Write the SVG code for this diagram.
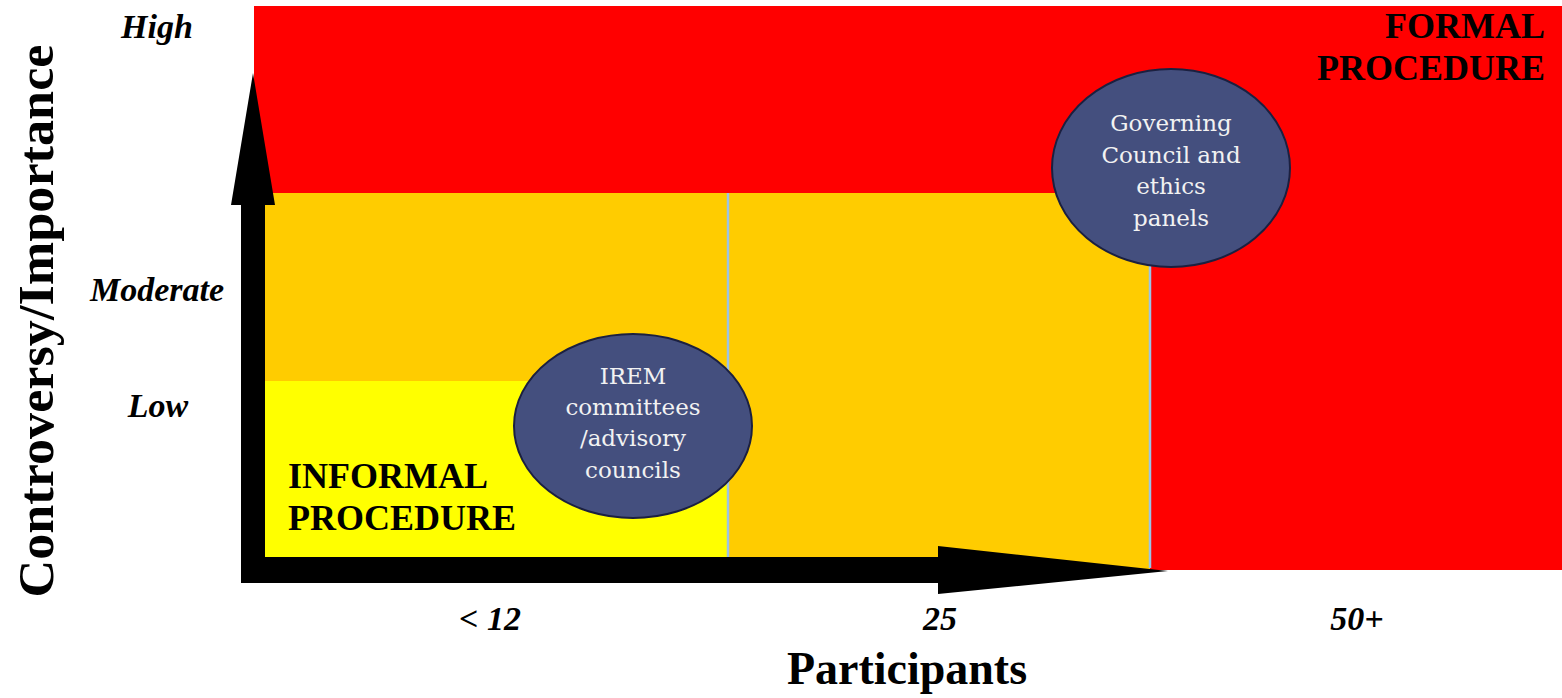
<svg xmlns="http://www.w3.org/2000/svg" width="1562" height="698" viewBox="0 0 1562 698">
  <style>
    .lvl { font-family: "Liberation Serif", "Times New Roman", serif; font-weight: bold; font-style: italic; font-size: 34px; fill: #000; text-anchor: middle; }
    .zone { font-family: "Liberation Serif", "Times New Roman", serif; font-weight: bold; font-size: 36px; fill: #000; }
    .axis { font-family: "Liberation Serif", "Times New Roman", serif; font-weight: bold; fill: #000; text-anchor: middle; }
    .body { fill: #444F7E; stroke: #1B2040; stroke-width: 2; }
    .lbl { font-family: "DejaVu Serif", "Liberation Serif", serif; font-size: 23px; fill: #F2F2F2; text-anchor: middle; }
    .div { stroke: #9DC3E6; stroke-width: 2.5; }
  </style>

  <rect width="1562" height="698" fill="#FFFFFF"/>

  <!-- zone bands -->
  <g id="bands">
    <rect x="254" y="6" width="1308" height="564" fill="#FF0000"/>
    <rect x="265" y="193" width="885" height="377" fill="#FFCC00"/>
    <rect x="265" y="381" width="463" height="176" fill="#FFFF00"/>
    <line class="div" x1="728" y1="193" x2="728" y2="557"/>
    <line class="div" x1="1150" y1="193" x2="1150" y2="568"/>
  </g>

  <!-- axes -->
  <g id="connectors">
    <polygon fill="#000" points="241,583 241,205 231,205 253,73 275,205 265,205 265,557 938,557 938,546 1168,571 938,594 938,583"/>
  </g>

  <!-- level labels -->
  <g id="levels">
    <text class="lvl" x="157" y="38">High</text>
    <text class="lvl" x="157" y="301">Moderate</text>
    <text class="lvl" x="158" y="417">Low</text>
    <text class="lvl" x="490" y="630">&lt; 12</text>
    <text class="lvl" x="940" y="630">25</text>
    <text class="lvl" x="1357" y="630">50+</text>
  </g>

  <g id="axis-titles">
    <text class="axis" x="907" y="684" font-size="46">Participants</text>
    <text class="axis" x="0" y="0" font-size="50" textLength="553" lengthAdjust="spacingAndGlyphs" transform="translate(53 321) rotate(-90)">Controversy/Importance</text>
  </g>

  <g id="formal">
    <text class="zone" x="1545" y="38" text-anchor="end">FORMAL</text>
    <text class="zone" x="1545" y="80" text-anchor="end">PROCEDURE</text>
  </g>

  <g id="informal">
    <text class="zone" x="288" y="488">INFORMAL</text>
    <text class="zone" x="288" y="530">PROCEDURE</text>
  </g>

  <g id="irem">
    <ellipse class="body" cx="633" cy="426" rx="119" ry="92"/>
    <text class="lbl" x="633" y="384">IREM</text>
    <text class="lbl" x="633" y="415">committees</text>
    <text class="lbl" x="633" y="446">/advisory</text>
    <text class="lbl" x="633" y="478">councils</text>
  </g>

  <g id="governing">
    <ellipse class="body" cx="1171" cy="168" rx="119" ry="99"/>
    <text class="lbl" x="1171" y="131">Governing</text>
    <text class="lbl" x="1171" y="163">Council and</text>
    <text class="lbl" x="1171" y="194">ethics</text>
    <text class="lbl" x="1171" y="226">panels</text>
  </g>
</svg>
